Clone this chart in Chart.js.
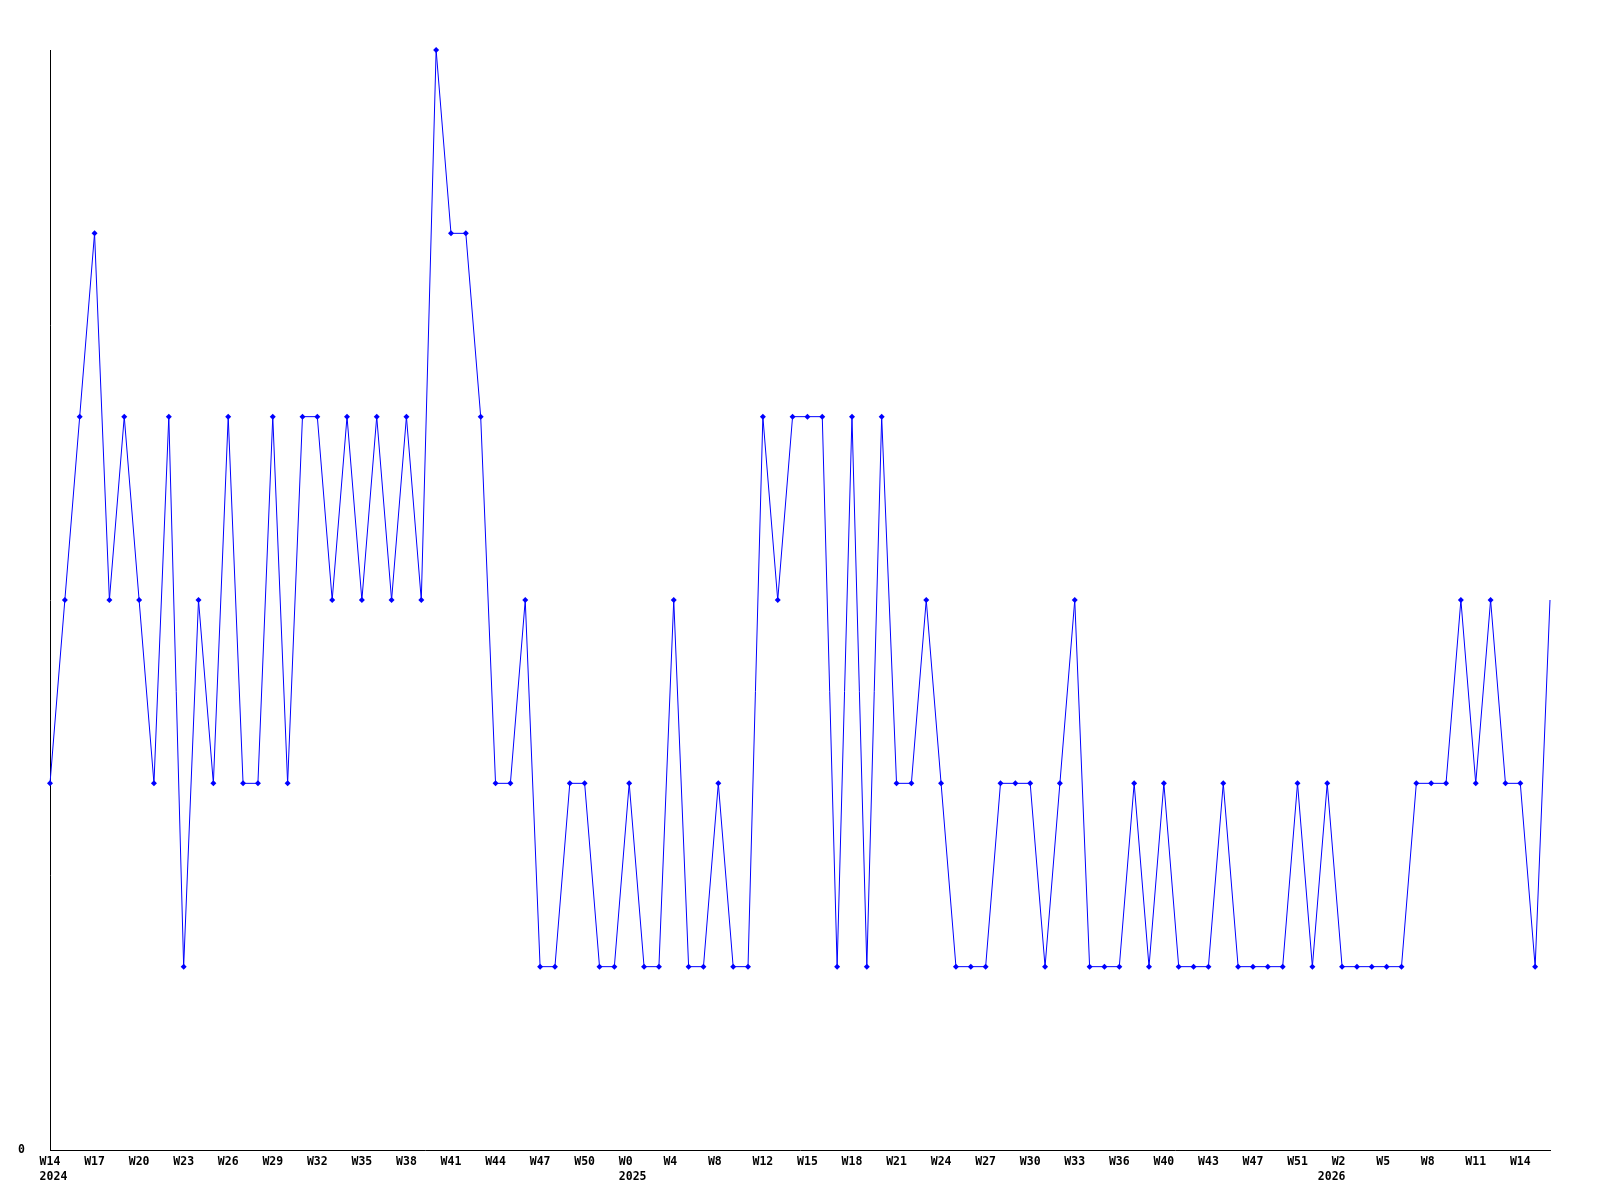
<!DOCTYPE html>
<html>
<head>
<meta charset="utf-8">
<script src="https://cdn.jsdelivr.net/npm/chart.js@4/dist/chart.umd.min.js"></script>
<style>
  html, body { margin: 0; padding: 0; background: #fff; }
  canvas { display: block; }
</style>
</head>
<body>
<canvas id="chart" width="1600" height="1200"></canvas>
<script>
// weekly values, W14 2024 .. W16 2026
const values = [
  2, 3, 4, 5, 3, 4, 3, 2, 4, 1,
  3, 2, 4, 2, 2, 4, 2, 4, 4, 3,
  4, 3, 4, 3, 4, 3, 6, 5, 5, 4,
  2, 2, 3, 1, 1, 2, 2, 1, 1, 2,
  1, 1, 3, 1, 1, 2, 1, 1, 4, 3,
  4, 4, 4, 1, 4, 1, 4, 2, 2, 3,
  2, 1, 1, 1, 2, 2, 2, 1, 2, 3,
  1, 1, 1, 2, 1, 2, 1, 1, 1, 2,
  1, 1, 1, 1, 2, 1, 2, 1, 1, 1,
  1, 1, 2, 2, 2, 3, 2, 3, 2, 2,
  1, 3
]

// one label every 3rd week
const tickLabels = [
  'W14', 'W17', 'W20', 'W23', 'W26', 'W29', 'W32', 'W35', 'W38', 'W41',
  'W44', 'W47', 'W50', 'W0', 'W4', 'W8', 'W12', 'W15', 'W18', 'W21',
  'W24', 'W27', 'W30', 'W33', 'W36', 'W40', 'W43', 'W47', 'W51', 'W2',
  'W5', 'W8', 'W11', 'W14'
]
const tickEvery = 3

// year shown under these tick labels
const yearTicks = [0, 13, 29]
const yearLabels = ['2024', '2025', '2026']

const categories = values.map((v, i) => i)

const monoFont = { family: '"DejaVu Sans Mono", "Liberation Mono", monospace', size: 11.5, weight: 'bold', lineHeight: 1.3 }

const ctx = document.getElementById('chart')

new Chart(ctx, {
  type: 'line',
  data: {
    labels: categories,
    datasets: [{
      data: values,
      borderColor: '#0000ff',
      backgroundColor: '#0000ff',
      borderWidth: 1,
      tension: 0,
      clip: false,
      pointStyle: 'rectRot',
      pointRadius: (c) => c.dataIndex === values.length - 1 ? 0 : 3,
      pointBorderWidth: 0,
      pointBackgroundColor: '#0000ff',
      fill: false
    }]
  },
  options: {
    responsive: false,
    animation: false,
    layout: { padding: { top: 50, right: 50, left: 0, bottom: 0 } },
    plugins: {
      legend: { display: false },
      tooltip: { enabled: false }
    },
    scales: {
      x: {
        type: 'category',
        offset: false,
        grid: { display: false, drawTicks: false },
        border: { display: true, color: '#000', width: 1 },
        afterFit: (scale) => { scale.height = 50 },
        ticks: {
          autoSkip: false,
          maxRotation: 0,
          minRotation: 0,
          padding: 5,
          color: '#000',
          font: monoFont,
          callback: function (value, index) {
            if (index % tickEvery !== 0) return null
            const k = index / tickEvery
            let week = tickLabels[k]
            if (week === undefined) return null
            if (week.length < 3) week = week + ' '
            const y = yearTicks.indexOf(k)
            if (y < 0) return week
            const year = k === yearTicks[2] ? yearLabels[y] + '   ' : ' ' + yearLabels[y]
            return [week, year]
          }
        }
      },
      y: {
        min: 0,
        max: 6,
        grid: { display: false, drawTicks: false },
        border: { display: true, color: '#000', width: 1 },
        afterFit: (scale) => { scale.width = 50 },
        ticks: {
          stepSize: 1,
          padding: 25,
          color: '#000',
          font: monoFont,
          callback: (v) => v === 0 ? '0' : ''
        }
      }
    }
  }
})
</script>
</body>
</html>
